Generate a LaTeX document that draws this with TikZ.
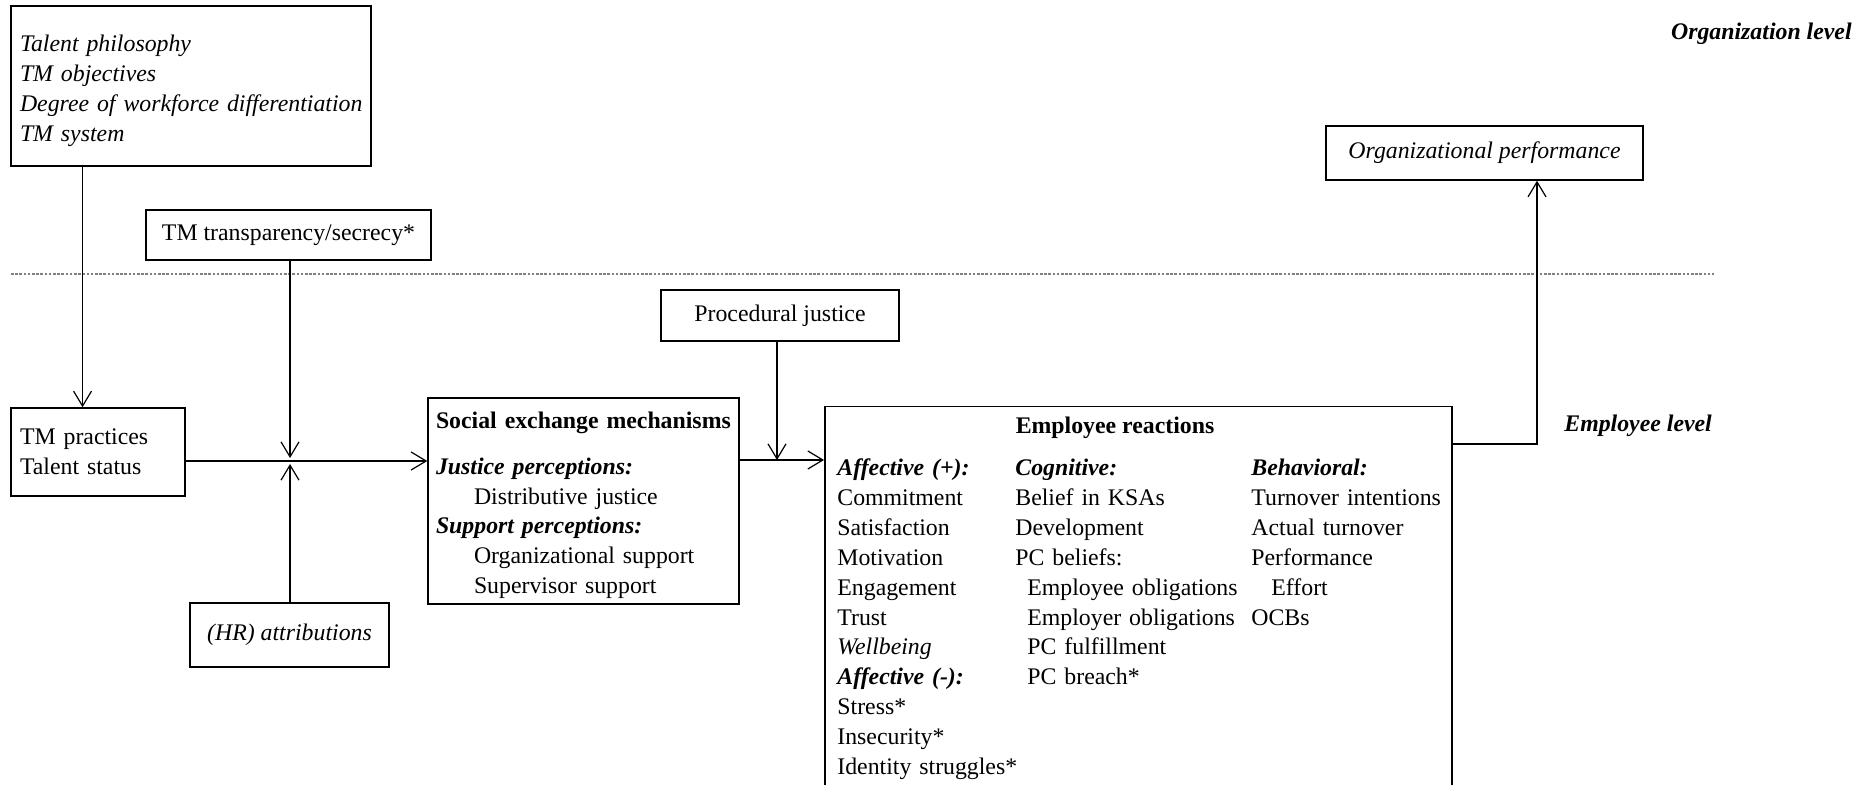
\documentclass[tikz,border=0pt]{standalone}
\usepackage{fontspec}
\setmainfont{Liberation Serif}
\renewcommand{\normalsize}{\fontsize{11.9}{14.9}\selectfont}
\usetikzlibrary{arrows.meta,positioning,calc}
\tikzset{
     tmbox/.style     = {draw, line width=0.75pt, inner sep=0pt},
     listbox/.style   = {tmbox, align=left, inner xsep=4.5pt},
     column/.style    = {align=left, inner sep=0pt, anchor=base west, text width=140pt},
     link/.style      = {line width=0.6pt, -{Straight Barb[length=7.5pt,width=9pt]}},
     levelline/.style = {gray, line width=0.6pt, dash pattern=on 1.3pt off 0.8pt},
     levelnote/.style = {font=\bfseries\itshape, inner sep=0pt},
    }

\begin{document}
\begin{tikzpicture}[x=0.5pt,y=-0.5pt]
    \useasboundingbox (0,0) rectangle (1872,785);

    % organization level
    \node [listbox, font=\itshape, text width=171pt, minimum height=80pt] (strategy) at (191,86)
        {\rule{0pt}{13pt}Talent philosophy\\TM objectives\\\mbox{Degree of workforce differentiation}\\TM system};
    \node [tmbox, minimum width=142.5pt, minimum height=25pt] (secrecy) at (288.5,235) {TM transparency/secrecy*};
    \node [tmbox, font=\itshape, minimum width=158.5pt, minimum height=27pt] (orgperf) at (1484.5,153) {Organizational performance};
    \node [levelnote, anchor=base east] (orglevel) at (1852,40) {Organization level};

    \draw [levelline] (11,274) -- (1714,274);

    % employee level
    \node [levelnote, anchor=base west] (emplevel) at (1564,432) {Employee level};
    \node [listbox, text width=78pt, minimum height=44pt] (practices) at (98,452) {TM practices\\Talent status};
    \node [tmbox, font=\itshape, minimum width=99.5pt, minimum height=32pt] (attrib) at (289.5,635) {(HR) attributions};
    \node [listbox, inner xsep=4pt, text width=147.5pt, minimum height=103pt] (social) at (583.5,501)
        {\rule{0pt}{12.5pt}\textbf{Social exchange mechanisms}\\[8pt]
         \textbf{\textit{Justice perceptions:}}\\
         \hspace*{19pt}Distributive justice\\
         \textbf{\textit{Support perceptions:}}\\
         \hspace*{19pt}Organizational support\\
         \hspace*{19pt}Supervisor support};
    \node [tmbox, minimum width=119pt, minimum height=25.5pt] (procedural) at (780,315.5) {Procedural justice};

    \node [tmbox, anchor=north west, minimum width=313.5pt, minimum height=197pt] (reactions) at (824,406) {};
    \node [inner sep=0pt, anchor=base, font=\bfseries] (reacttitle) at (1115,434) {Employee reactions};
    \node [column] (affective) at (837,476)
        {\textbf{\textit{Affective (+):}}\\Commitment\\Satisfaction\\Motivation\\Engagement\\Trust\\
         \textit{Wellbeing}\\\textbf{\textit{Affective (-):}}\\Stress*\\Insecurity*\\Identity struggles*};
    \node [column] (cognitive) at (1015,476)
        {\textbf{\textit{Cognitive:}}\\Belief in KSAs\\Development\\PC beliefs:\\
         \hspace*{6pt}Employee obligations\\\hspace*{6pt}Employer obligations\\
         \hspace*{6pt}PC fulfillment\\\hspace*{6pt}PC breach*};
    \node [column] (behavioral) at (1251,476)
        {\textbf{\textit{Behavioral:}}\\Turnover intentions\\Actual turnover\\Performance\\
         \hspace*{10pt}Effort\\OCBs};

    % connectors
    \coordinate (drop) at ($(strategy.south west)!0.2!(strategy.south east)$);
    \coordinate (meet) at (290,461);
    \coordinate (join) at (777,460);
    \coordinate (turn) at (1537,444);

    \draw [link] (drop) -- (drop |- practices.north);
    \draw [link, shorten >=1.5pt] (secrecy.south -| meet) -- (meet);
    \draw [link, shorten >=1.5pt] (attrib.north -| meet) -- (meet);
    \draw [link] (practices.east |- meet) -- (social.west |- meet);
    \draw [link] (procedural.south -| join) -- (join);
    \draw [link] (social.east |- join) -- (reactions.west |- join);
    \draw [link] (reactions.east |- turn) -- (turn) -- (turn |- orgperf.south);
\end{tikzpicture}
\end{document}
